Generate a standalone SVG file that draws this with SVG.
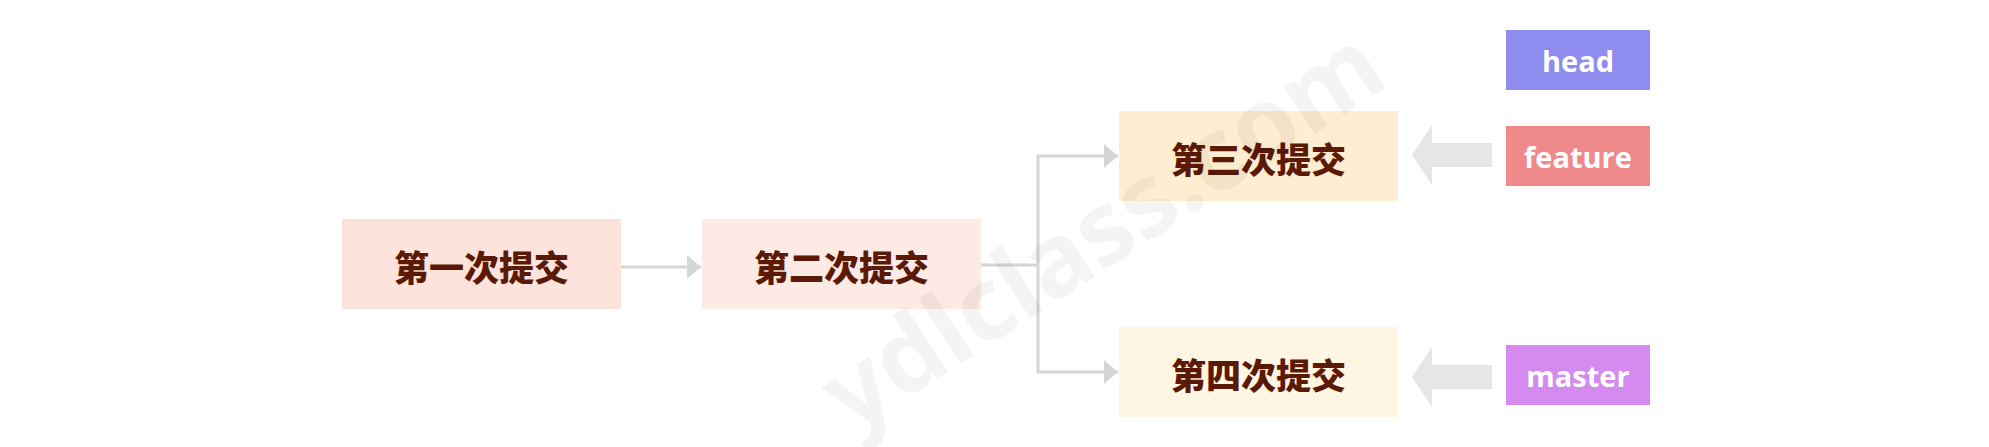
<svg xmlns="http://www.w3.org/2000/svg" width="1989" height="447" viewBox="0 0 1989 447">
<defs>
<style>
.box text{font-family:"Noto Sans CJK SC","Noto Sans",sans-serif;font-weight:900;font-size:35px;fill:#5a1a06;text-anchor:middle;dominant-baseline:central}
.tag text{font-family:"Open Sans","Noto Sans",sans-serif;font-weight:700;font-size:29px;fill:#ffffff;text-anchor:middle;dominant-baseline:central}
.conn{fill:none;stroke:#d6d6d6;stroke-width:3}
.fat{fill:#e6e6e6}
.wm{font-family:"Noto Sans","Open Sans",sans-serif;font-weight:700;font-size:102px;fill:#000;fill-opacity:0.045;text-anchor:middle;dominant-baseline:central}
</style>
<marker id="ah" viewBox="0 0 14 24" refX="14" refY="12" markerWidth="14" markerHeight="24" markerUnits="userSpaceOnUse" orient="auto">
<path d="M0,0 L14,12 L0,24 Z" fill="#d6d6d6"/>
</marker>
</defs>
<rect width="1989" height="447" fill="#ffffff"/>
<g id="commit1" class="box"><rect x="342" y="219" width="279" height="90" fill="#fee2dc"/><text x="481.5" y="265">第一次提交</text></g>
<g id="commit2" class="box"><rect x="702" y="219" width="279" height="90" fill="#feeae4"/><text x="841.5" y="265">第二次提交</text></g>
<g id="commit3" class="box"><rect x="1119" y="111" width="279" height="90" fill="#feedd0"/><text x="1258.5" y="157">第三次提交</text></g>
<g id="commit4" class="box"><rect x="1119" y="327" width="279" height="90" fill="#fff5e3"/><text x="1258.5" y="373">第四次提交</text></g>
<g id="head" class="tag"><rect x="1506" y="30" width="144" height="60" fill="#8f8cf0"/><text x="1578" y="60">head</text></g>
<g id="feature" class="tag"><rect x="1506" y="126" width="144" height="60" fill="#f0898a"/><text x="1578" y="156">feature</text></g>
<g id="master" class="tag"><rect x="1506" y="345" width="144" height="60" fill="#d48aef"/><text x="1578" y="375">master</text></g>
<g id="connectors">
<path class="conn" d="M621,267 H701" marker-end="url(#ah)"/>
<path class="conn" d="M981,265 H1038"/>
<path class="conn" d="M1038,265 V156 H1118" marker-end="url(#ah)"/>
<path class="conn" d="M1038,265 V372 H1118" marker-end="url(#ah)"/>
<path class="fat" d="M1412,155 L1432,125 L1432,143 L1492,143 L1492,167 L1432,167 L1432,185 Z"/>
<path class="fat" d="M1412,377 L1432,347 L1432,365 L1492,365 L1492,389 L1432,389 L1432,407 Z"/>
</g>
<text class="wm" transform="translate(1100,226) rotate(-33)">ydlclass.com</text>
</svg>
